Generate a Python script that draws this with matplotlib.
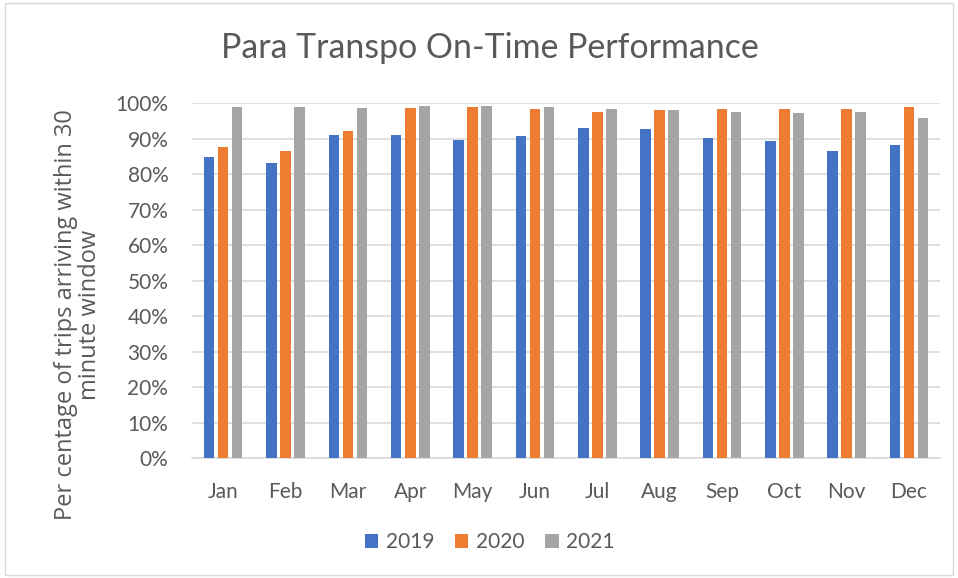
import matplotlib.pyplot as plt
import numpy as np
from matplotlib.patches import Rectangle
from matplotlib.ticker import PercentFormatter

months = ["Jan", "Feb", "Mar", "Apr", "May", "Jun",
          "Jul", "Aug", "Sep", "Oct", "Nov", "Dec"]
years = ["2019", "2020", "2021"]
otp_2019 = [84.8, 83.1, 91.0, 91.1, 89.6, 90.6, 92.9, 92.7, 90.2, 89.3, 86.4, 88.3]
otp_2020 = [87.6, 86.6, 92.1, 98.5, 98.9, 98.3, 97.5, 97.9, 98.2, 98.4, 98.2, 98.8]
otp_2021 = [99.0, 98.8, 98.7, 99.1, 99.2, 98.9, 98.2, 97.9, 97.6, 97.2, 97.4, 95.7]
colors = ["#4472c4", "#ed7d31", "#a5a5a5"]


def main():
    """draws the on-time performance chart"""
    plt.rcParams["font.family"] = ["Lato", "DejaVu Sans"]
    fig = plt.figure(figsize=(9.58, 5.78), dpi=100)
    ax = fig.add_axes([0.2004, 0.2076, 0.781, 0.6142])

    x = np.arange(len(months))
    series = [otp_2019, otp_2020, otp_2021]
    for i, (vals, year) in enumerate(zip(series, years)):
        ax.bar(x + (i - 1) * 0.225, vals, width=0.17, color=colors[i],
               label=year, zorder=3)

    ax.set_xlim(-0.5, len(months) - 0.5)
    ax.set_ylim(0, 100)
    ax.set_yticks(np.arange(0, 101, 10))
    ax.yaxis.set_major_formatter(PercentFormatter(decimals=0))
    ax.set_xticks(x)
    ax.set_xticklabels(months)
    ax.grid(axis="y", color="#d9d9d9", linewidth=1.2, zorder=0)
    for side in ["top", "right", "left"]:
        ax.spines[side].set_visible(False)
    ax.spines["bottom"].set_color("#d9d9d9")
    ax.spines["bottom"].set_linewidth(1.2)
    ax.tick_params(axis="both", length=0, labelsize=15, colors="#595959")
    ax.tick_params(axis="x", pad=17)
    ax.tick_params(axis="y", pad=17)

    # y label sits lower than the axes centre in the original
    fig.text(78 / 958, 1 - 315 / 578,
             "Per centage of trips arriving within 30\nminute window",
             rotation=90, ha="center", va="center", multialignment="center",
             fontsize=17, color="#595959", family="Open Sans",
             linespacing=1.0)

    fig.text(0.511, 0.917, "Para Transpo On-Time Performance",
             ha="center", va="center", fontsize=24.4, color="#595959")

    fig.legend(loc="center", bbox_to_anchor=(0.511, 1 - 542 / 578), ncol=3,
               frameon=False, fontsize=15, handlelength=0.65,
               handleheight=0.65, handletextpad=0.35, columnspacing=1.0,
               labelcolor="#595959")

    fig.patches.append(Rectangle((0.005, 0.005), 0.99, 0.99,
                                 transform=fig.transFigure, fill=False,
                                 edgecolor="#d9d9d9", linewidth=1))
    fig.savefig("out.png", dpi=100)


if __name__ == "__main__":
    main()
